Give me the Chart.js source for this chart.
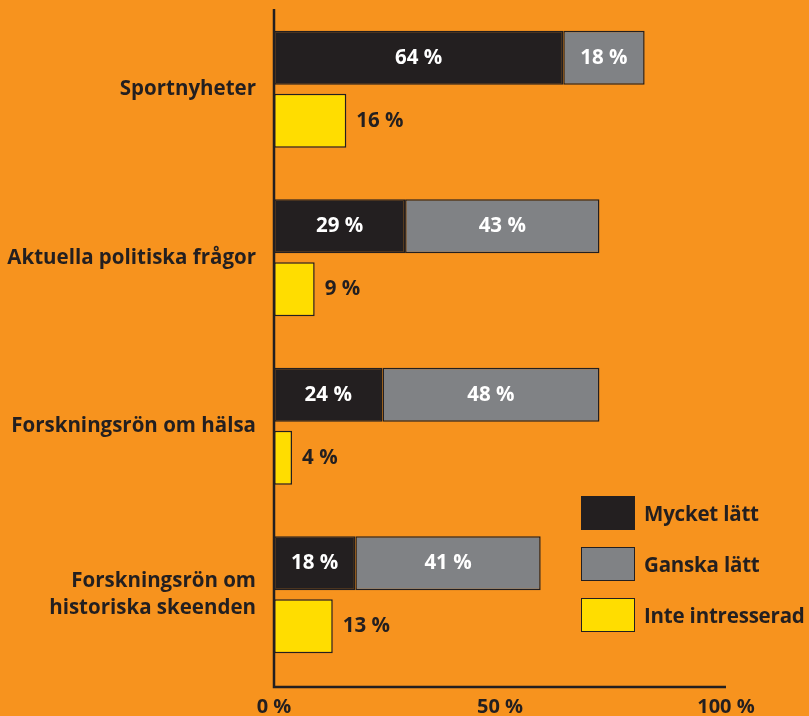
<!DOCTYPE html>
<html>
<head>
<meta charset="utf-8">
<script src="https://cdn.jsdelivr.net/npm/chart.js@4.4.1/dist/chart.umd.min.js"></script>
<style>
  body { margin: 0; background: #F7931E; }
  #wrap { position: relative; width: 809px; height: 716px; background: #F7931E; }
  #legend { position: absolute; left: 581px; top: 495px; font-family: "Open Sans", sans-serif; font-weight: bold; font-size: 20.5px; color: #231F20; letter-spacing: -0.2px; }
  .item { display: flex; align-items: center; height: 35px; margin-bottom: 16px; }
  .box { width: 52px; height: 32px; border: 1.5px solid #231F20; margin-right: 9px; }
</style>
</head>
<body>
<div id="wrap">
  <canvas id="chart" width="809" height="716"></canvas>
  <div id="legend"></div>
</div>
<script>
const categories = ["Sportnyheter", "Aktuella politiska frågor", "Forskningsrön om hälsa", ["Forskningsrön om", "historiska skeenden"]];
const seriesNames = ["Mycket lätt", "Ganska lätt", "Inte intresserad"];
const mycketLatt = [64, 29, 24, 18];
const ganskaLatt = [18, 43, 48, 41];
const inteIntresserad = [16, 9, 4, 13];
const xTicks = [0, 50, 100];

const ink = "#231F20";
const colors = ["#231F20", "#808285", "#FFDD00"];
const font = "'Open Sans', sans-serif";

// value labels on / next to the bars
const valueLabels = {
  id: "valueLabels",
  afterDatasetsDraw(chart) {
    const ctx = chart.ctx;
    ctx.save();
    ctx.font = "bold 20.5px " + font;
    ctx.textBaseline = "middle";
    chart.data.datasets.forEach((ds, di) => {
      chart.getDatasetMeta(di).data.forEach((bar, i) => {
        const txt = ds.data[i] + " %";
        if (di < 2) {
          ctx.fillStyle = "#ffffff";
          ctx.textAlign = "center";
          ctx.fillText(txt, (bar.x + bar.base) / 2, bar.y);
        } else {
          ctx.fillStyle = ink;
          ctx.textAlign = "left";
          ctx.fillText(txt, bar.x + 10, bar.y);
        }
      });
    });
    ctx.restore();
  }
};

// axis lines
const axisLines = {
  id: "axisLines",
  afterDraw(chart) {
    const { ctx, chartArea } = chart;
    const x = chart.scales.x;
    const left = x.getPixelForValue(0);
    const right = x.getPixelForValue(100);
    const bottom = chartArea.bottom + 8;
    ctx.save();
    ctx.strokeStyle = ink;
    ctx.lineWidth = 2.5;
    ctx.beginPath();
    ctx.moveTo(left, chartArea.top + 4);
    ctx.lineTo(left, bottom);
    ctx.lineTo(right, bottom);
    ctx.stroke();
    ctx.restore();
  }
};

const chart = new Chart(document.getElementById("chart"), {
  type: "bar",
  data: {
    labels: categories,
    datasets: [
      { label: seriesNames[0], data: mycketLatt, stack: "a", backgroundColor: colors[0] },
      { label: seriesNames[1], data: ganskaLatt, stack: "a", backgroundColor: colors[1] },
      { label: seriesNames[2], data: inteIntresserad, stack: "b", backgroundColor: colors[2] },
    ].map((d) => Object.assign(d, {
      borderColor: ink,
      borderWidth: 1.5,
      borderSkipped: false,
      categoryPercentage: 0.748,
      barPercentage: 0.857,
    })),
  },
  options: {
    indexAxis: "y",
    responsive: false,
    animation: false,
    layout: { padding: { top: 5, right: 83, left: 0, bottom: 0 } },
    plugins: { legend: { display: false }, tooltip: { enabled: false } },
    scales: {
      x: {
        stacked: true,
        min: 0,
        max: 100,
        afterBuildTicks(scale) { scale.ticks = xTicks.map((v) => ({ value: v })); },
        afterFit(scale) { scale.paddingLeft = 0; scale.paddingRight = 0; scale.height = 37; },
        grid: { display: false, drawTicks: false },
        border: { display: false },
        ticks: {
          padding: 16,
          color: ink,
          font: { family: font, weight: "bold", size: 20 },
          callback: (v) => v + " %",
          maxRotation: 0,
        },
      },
      y: {
        stacked: true,
        grid: { display: false, drawTicks: false },
        border: { display: false },
        afterFit(scale) { scale.width = 274; scale.paddingTop = 0; scale.paddingBottom = 0; },
        ticks: {
          padding: 18,
          color: ink,
          font: { family: font, weight: "bold", size: 20.5, lineHeight: 1.32 },
        },
      },
    },
  },
  plugins: [valueLabels, axisLines],
});

// legend
const legend = document.getElementById("legend");
seriesNames.forEach((name, i) => {
  const item = document.createElement("div");
  item.className = "item";
  const box = document.createElement("div");
  box.className = "box";
  box.style.background = colors[i];
  const label = document.createElement("span");
  label.textContent = name;
  item.appendChild(box);
  item.appendChild(label);
  legend.appendChild(item);
});
</script>
</body>
</html>
